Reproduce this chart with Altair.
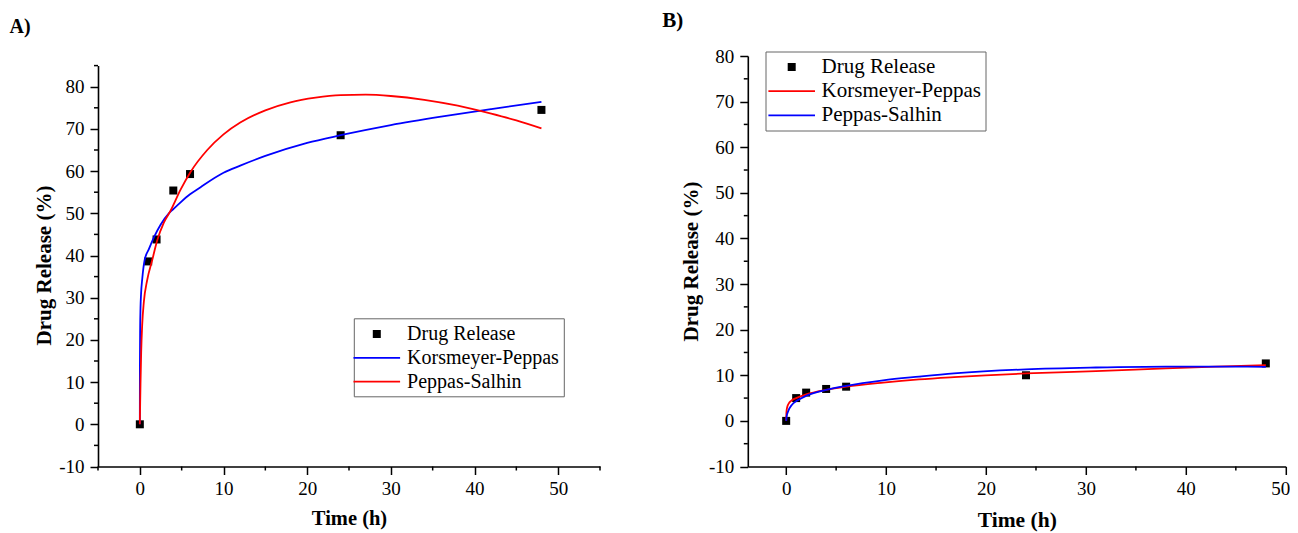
import altair as alt
import pandas as pd

# ---------------- data ----------------
time_h = [0, 1, 2, 4, 6, 24, 48]
release_A = [0, 38.6, 43.8, 55.4, 59.3, 68.5, 74.5]
release_B = [0, 5.0, 6.2, 7.0, 7.5, 10.0, 12.6]

# Panel A fitted curves
kp_A_t = [0, 0.01, 0.04, 0.08, 0.15, 0.29, 0.56, 1.08, 1.68, 2.48, 3.47, 3.95, 4.87, 6, 7.26, 10, 12, 15, 20, 24, 30, 36, 42, 48]
kp_A_y = [0, 14, 23, 27.5, 31, 34.5, 38.8, 41.5, 44.3, 47.3, 50, 50.9, 52.6, 54.5, 56.2, 59.6, 61.3, 63.6, 66.7, 68.5, 70.9, 72.9, 74.7, 76.4]
ps_A_t = [0, 0.04, 0.08, 0.16, 0.28, 0.48, 0.88, 1.48, 2.08, 2.87, 3.67, 4.87, 6.06, 8.06, 10, 12, 15, 18, 21, 24, 27, 30, 34, 38, 42, 45, 48]
ps_A_y = [0, 5, 9.6, 17, 23.5, 29, 34.2, 38.9, 43.6, 47.8, 50.6, 55.6, 59.8, 65, 68.7, 71.5, 74.4, 76.3, 77.4, 78, 78.1, 77.8, 76.9, 75.5, 73.6, 72, 70.1]

# Panel B fitted curves
kp_B_t = [0, 0.03, 0.1, 0.25, 0.5, 1, 2, 4, 6, 9.7, 13.3, 16.8, 24, 31, 38, 43, 48]
kp_B_y = [0, 2.0, 3.0, 3.8, 4.4, 5.0, 5.8, 6.8, 7.5, 8.4, 9.1, 9.6, 10.4, 10.9, 11.5, 11.9, 12.2]
ps_B_t = [0, 0.05, 0.18, 0.6, 1.14, 2, 4, 6, 9.7, 13.3, 16.8, 24, 31, 38, 43, 48]
ps_B_y = [0, 1.0, 2.0, 3.6, 4.5, 5.5, 6.8, 7.7, 8.9, 9.7, 10.4, 11.3, 11.7, 11.9, 11.9, 11.85]

series_names = ["Drug Release", "Korsmeyer-Peppas", "Peppas-Salhin"]
colors_A = ["black", "blue", "red"]
colors_B = ["black", "red", "blue"]
panel_labels = ["A)", "B)"]
x_title = "Time (h)"
y_title = "Drug Release (%)"

x_major_A = [0, 10, 20, 30, 40, 50]
x_minor_A = [-5, 5, 15, 25, 35, 45, 55]
y_major_A = [-10, 0, 10, 20, 30, 40, 50, 60, 70, 80]
y_minor_A = [-5, 5, 15, 25, 35, 45, 55, 65, 75, 85]
x_major_B = [0, 10, 20, 30, 40, 50]
x_minor_B = [5, 15, 25, 35, 45]
y_major_B = [-10, 0, 10, 20, 30, 40, 50, 60, 70, 80]
y_minor_B = [-5, 5, 15, 25, 35, 45, 55, 65, 75]

FONT = "Liberation Serif"
SQUARE = "M-0.31,-0.31H0.31V0.31H-0.31Z"
LINE = "M-2.33,0H2.33"
shape_range = [SQUARE, LINE, LINE]
LBL = "datum.value < 0 ? '-' + (-datum.value) : '' + datum.value"
H = 410.5


def make_legend(fsize, lx, ly, pad, sym_off, lab_off, row_pad, fallback):
    kw = dict(title=None, orient="none", legendX=lx, legendY=ly, padding=pad,
              labelFont=FONT, labelFontSize=fsize, labelColor="black", labelLimit=400,
              symbolSize=400, symbolStrokeWidth=1.8, symbolOffset=sym_off,
              labelOffset=lab_off, rowPadding=row_pad, strokeColor="#666666",
              fillColor="white")
    if fallback:
        kw["symbolType"] = "stroke"
    return alt.Legend(**kw)


def panel(pts_y, kp_t, kp_y, ps_t, ps_y, colors, xdom, ydom, yrange, width,
          x_major, x_minor, y_major, y_minor, legend, label, lab_x, lab_y, lab_size,
          xt_size, xt_y, yt_size, yt_x, yt_y, x_flush, fallback):
    pts = pd.DataFrame({"t": time_h, "v": pts_y, "series": "Drug Release"})
    fits = pd.concat([
        pd.DataFrame({"t": kp_t, "v": kp_y, "series": "Korsmeyer-Peppas"}),
        pd.DataFrame({"t": ps_t, "v": ps_y, "series": "Peppas-Salhin"}),
    ])
    xs = alt.Scale(domain=xdom, nice=False, zero=False)
    if yrange:
        ys = alt.Scale(domain=ydom, nice=False, zero=False, range=yrange)
    else:
        ys = alt.Scale(domain=ydom, nice=False, zero=False)
    common = dict(grid=False, domainColor="black", domainWidth=1.6, tickColor="black",
                  tickWidth=1.5, tickSize=8, labelFont=FONT, labelFontSize=19,
                  labelColor="black", labelExpr=LBL, labelOverlap=False,
                  titleFont=FONT, titleFontWeight="bold", titleColor="black")
    if x_flush:
        xflush = dict(labelFlush=1, labelFlushOffset=4)
    else:
        xflush = dict(labelFlush=False)
    xaxis = alt.Axis(values=x_major, labelPadding=5, title=x_title, titleFontSize=xt_size,
                     titleX=width / 2, titleY=xt_y, titleBaseline="alphabetic",
                     titleAlign="center", **xflush, **common)
    yaxis = alt.Axis(values=y_major, labelPadding=6, title=y_title, titleFontSize=yt_size,
                     titleX=yt_x, titleY=yt_y, titleAngle=-90, titleBaseline="alphabetic",
                     titleAlign="center", labelFlush=False, **common)
    X = alt.X("t:Q", scale=xs, axis=xaxis)
    Y = alt.Y("v:Q", scale=ys, axis=yaxis)
    C = alt.Color("series:N", scale=alt.Scale(domain=series_names, range=colors), legend=legend)

    ymin = alt.Chart(pd.DataFrame({"v": y_minor})).mark_rule(color="black", strokeWidth=1.5).encode(
        y=Y, x=alt.value(0), x2=alt.value(-4))
    xmin = alt.Chart(pd.DataFrame({"t": x_minor})).mark_rule(color="black", strokeWidth=1.5).encode(
        x=X, y=alt.value(H), y2=alt.value(H + 4))
    if fallback:
        p = alt.Chart(pts).mark_point(shape="square", filled=True, size=64, opacity=1).encode(
            x=X, y=Y, color=C)
    else:
        S = alt.Shape("series:N", scale=alt.Scale(domain=series_names, range=shape_range),
                      legend=legend)
        p = alt.Chart(pts).mark_point(filled=True, size=666, opacity=1).encode(
            x=X, y=Y, color=C, shape=S)
    ln = alt.Chart(fits).mark_line(strokeWidth=1.8, interpolate="monotone").encode(
        x=X, y=Y, color=C)
    lab = alt.Chart(pd.DataFrame({"lab": [label]})).mark_text(
        font=FONT, fontSize=lab_size, fontWeight="bold", align="left",
        baseline="alphabetic", color="black").encode(
        text="lab:N", x=alt.value(lab_x), y=alt.value(lab_y))
    return alt.layer(ymin, xmin, p, ln, lab).properties(width=width, height=H)


def build(fallback, pad_right):
    leg_A = make_legend(20, 255.8, 262.3, 4.7, 7.3, 19.3, 2.8, fallback)
    leg_B = make_legend(21, 17.7, -4.5, 4.5, 10.7, 18.9, 3.2, fallback)
    pa = panel(release_A, kp_A_t, kp_A_y, ps_A_t, ps_A_y, colors_A, [-5, 55], [-10, 85],
               [H, 9.6], 502, x_major_A, x_minor_A, y_major_A, y_minor_A, leg_A,
               panel_labels[0], -88.5, -22.7, 20, 20.5, 58.2, 21, -48, 209, False, fallback)
    pb = panel(release_B, kp_B_t, kp_B_y, ps_B_t, ps_B_y, colors_B, [-3.84, 50], [-10, 80],
               None, 538, x_major_B, x_minor_B, y_major_B, y_minor_B, leg_B,
               panel_labels[1], -85.6, -29, 21, 21.5, 60.4, 21, -50, 205, True, fallback)
    ch = alt.hconcat(pa, pb, spacing=147.8, bounds="flush").resolve_scale(
        color="independent", shape="independent").properties(
        padding={"left": 1, "top": 2, "right": pad_right, "bottom": 0}).configure(
        font=FONT).configure_view(strokeWidth=0)
    return ch


chart = None
for fb, pr in [(False, 0), (True, 0)]:
    try:
        c = build(fb, pr)
        c.to_dict()
        chart = c
        break
    except Exception:
        continue

chart.save("out.html", embed_options={"renderer": "svg", "actions": False})
